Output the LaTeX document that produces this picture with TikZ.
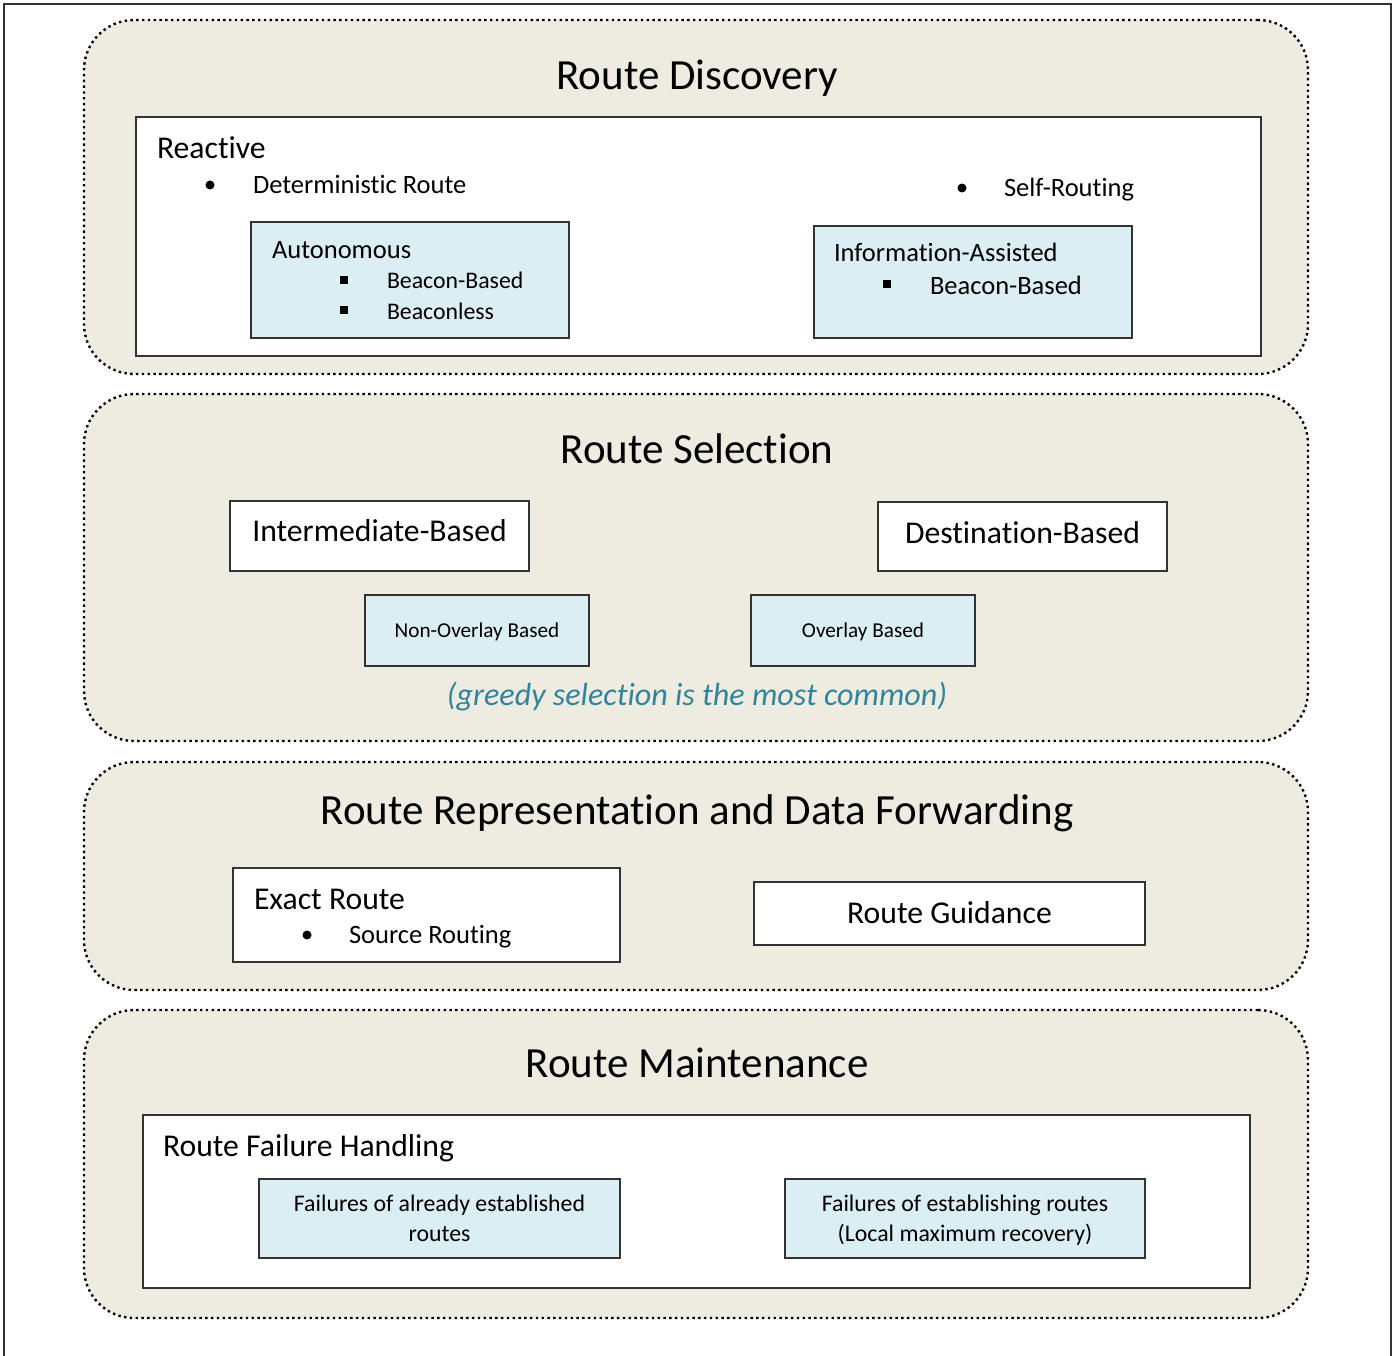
\documentclass[tikz,border=0pt]{standalone}
\usepackage{fontspec}
\setmainfont{Carlito}[Ligatures=NoCommon]
\usepackage{tikz}
\usetikzlibrary{positioning}
\definecolor{panelbg}{HTML}{EEECE1}
\definecolor{boxblue}{HTML}{DAEEF3}
\definecolor{noteteal}{HTML}{31849B}

\begin{document}
\begin{tikzpicture}[
        x=1pt, y=-1pt,
        every node/.style={inner sep=0pt, outer sep=0pt},
        panel/.style={draw, fill=panelbg, line width=2.4pt, dash pattern=on 2.4pt off 3.4pt, rounded corners=50pt},
        wbox/.style={draw=black!80, fill=white, line width=1.3pt},
        bbox/.style={draw=black!80, fill=boxblue, line width=1.3pt},
        ttl/.style={font=\fontsize{43}{50}\selectfont, text height=27.7pt, text depth=0pt},
        big/.style={font=\fontsize{31.7}{38}\selectfont, text height=20.4pt, text depth=0pt},
        mid/.style={font=\fontsize{26.5}{32}\selectfont, text height=17pt, text depth=0pt},
        sml/.style={font=\fontsize{23.8}{30}\selectfont, text height=15.3pt, text depth=0pt},
        tny/.style={font=\fontsize{21.2}{26}\selectfont, text height=13.6pt, text depth=0pt},
        dot/.style={circle, fill=black, minimum size=9pt},
        sq/.style={rectangle, fill=black, minimum size=7.5pt},
    ]
        \useasboundingbox (0,0) rectangle (1393,1356);

        % --- page frame ---
        \draw[line width=1.2pt, black!80] (4,1360) -- (4,4) -- (1391,4) -- (1391,1360);

        % --- Route Discovery ---
        \node[panel, minimum width=1224pt, minimum height=354pt] (disc) at (696,197) {};
        \node[ttl] (discT) at (697,76) {Route Discovery};
        \node[wbox, minimum width=1125pt, minimum height=239pt] (react) at (698.5,236.5) {};
        \node[big, anchor=west] (reactT) at (157,148) {Reactive};
        \node[dot] (detB) at (210,185) {};
        \node[mid, anchor=west] (detT) at (253,185) {Deterministic Route};
        \node[dot] (selfB) at (962,188) {};
        \node[mid, anchor=west] (selfT) at (1004,188) {Self-Routing};

        \node[bbox, minimum width=318pt, minimum height=116pt] (auto) at (410,280) {};
        \node[mid, anchor=west] (autoT) at (272,250) {Autonomous};
        \node[sq] (autoB1) at (344,280) {};
        \node[sml, anchor=west] (autoT1) at (387,281) {Beacon-Based};
        \node[sq] (autoB2) at (344,310) {};
        \node[sml, anchor=west] (autoT2) at (387,312) {Beaconless};

        \node[bbox, minimum width=318pt, minimum height=112pt] (info) at (973,282) {};
        \node[mid, anchor=west] (infoT) at (834,253) {Information-Assisted};
        \node[sq] (infoB1) at (887,284) {};
        \node[mid, anchor=west] (infoT1) at (930,286) {Beacon-Based};

        % --- Route Selection ---
        \node[panel, minimum width=1224pt, minimum height=347pt] (sel) at (696,567.5) {};
        \node[ttl] (selT) at (697,450) {Route Selection};
        \node[wbox, big, text depth=9pt, minimum width=299pt, minimum height=70pt] (inter) at (379.5,536) {Intermediate-Based};
        \node[wbox, big, text depth=6pt, minimum width=289pt, minimum height=69pt] (dest) at (1022.5,536.5) {Destination-Based};
        \node[bbox, tny, minimum width=224pt, minimum height=71pt] (nonov) at (477,630.5) {Non-Overlay Based};
        \node[bbox, tny, minimum width=224pt, minimum height=71pt] (ov) at (863,630.5) {Overlay Based};
        \node[big, font=\fontsize{32.1}{38}\selectfont\itshape, text=noteteal] (greedy) at (697,695)
            {(greedy selection is the most common)};

        % --- Route Representation and Data Forwarding ---
        \node[panel, minimum width=1224pt, minimum height=228pt] (repr) at (696,876) {};
        \node[ttl] (reprT) at (697,811) {Route Representation and Data Forwarding};
        \node[wbox, minimum width=387pt, minimum height=94pt] (exact) at (426.5,915) {};
        \node[big, anchor=west] (exactT) at (254,899) {Exact Route};
        \node[dot] (srcB) at (307,935) {};
        \node[mid, anchor=west] (srcT) at (349,935) {Source Routing};
        \node[wbox, big, minimum width=391pt, minimum height=63pt] (guide) at (949.5,913.5) {Route Guidance};

        % --- Route Maintenance ---
        \node[panel, minimum width=1224pt, minimum height=308pt] (maint) at (696,1164) {};
        \node[ttl] (maintT) at (697,1064) {Route Maintenance};
        \node[wbox, minimum width=1107pt, minimum height=173pt] (fail) at (696.5,1201.5) {};
        \node[big, anchor=west] (failT) at (163,1146) {Route Failure Handling};
        \node[bbox, sml, text height=45.3pt, align=center, minimum width=361pt, minimum height=79pt] (fail1) at (439.5,1218.5)
            {Failures of already established\\routes};
        \node[bbox, sml, text height=45.3pt, align=center, minimum width=360pt, minimum height=79pt] (fail2) at (965,1218.5)
            {Failures of establishing routes\\(Local maximum recovery)};
    \end{tikzpicture}
\end{document}
